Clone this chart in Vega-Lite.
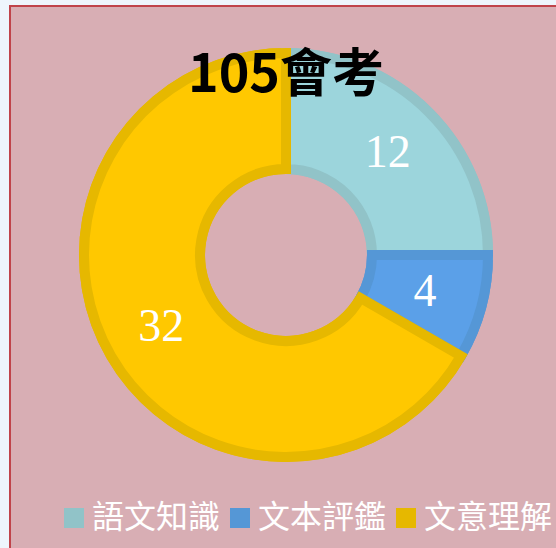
{
  "$schema": "https://vega.github.io/schema/vega-lite/v6.json",
  "width": 552,
  "height": 560,
  "autosize": "none",
  "padding": {"left": 10, "top": 6, "right": 0, "bottom": 0},
  "background": "#eef5fc",
  "view": {"fill": "#d8aeb4", "stroke": "#c0434a", "strokeWidth": 2},
  "title": {
    "text": "105會考",
    "font": "Noto Sans CJK TC",
    "fontSize": 52,
    "fontWeight": "bold",
    "color": "#000000",
    "anchor": "middle",
    "baseline": "alphabetic",
    "offset": 0,
    "dy": 138
  },
  "data": {
    "values": [
      {"cat": "語文知識", "value": 12, "idx": 1},
      {"cat": "文本評鑑", "value": 4, "idx": 2},
      {"cat": "文意理解", "value": 32, "idx": 3}
    ]
  },
  "encoding": {
    "theta": {"field": "value", "type": "quantitative", "stack": true},
    "order": {"field": "idx", "type": "ordinal"}
  },
  "layer": [
    {
      "mark": {"type": "arc", "outerRadius": 207, "innerRadius": 81, "y": 249},
      "encoding": {
        "color": {
          "field": "cat",
          "type": "nominal",
          "scale": {"domain": ["語文知識", "文本評鑑", "文意理解"], "range": ["#91c3c8", "#5597d6", "#e6b800"]},
          "legend": {
            "title": null,
            "orient": "none",
            "direction": "horizontal",
            "legendX": 48,
            "legendY": 496,
            "padding": 0,
            "symbolType": "square",
            "symbolSize": 400,
            "symbolStrokeWidth": 0,
            "symbolOpacity": 1,
            "labelFont": "Noto Sans CJK TC",
            "labelFontSize": 32,
            "labelColor": "#ffffff",
            "labelOffset": 2,
            "labelLimit": 0,
            "columnPadding": 3
          }
        }
      }
    },
    {
      "mark": {"type": "arc", "outerRadius": 202, "innerRadius": 86, "strokeWidth": 10, "y": 249},
      "encoding": {
        "fill": {
          "field": "cat",
          "type": "nominal",
          "scale": {"domain": ["語文知識", "文本評鑑", "文意理解"], "range": ["#9cd5dc", "#5ba0e8", "#ffc800"]},
          "legend": null
        },
        "stroke": {
          "field": "cat",
          "type": "nominal",
          "scale": {"domain": ["語文知識", "文本評鑑", "文意理解"], "range": ["#91c3c8", "#5597d6", "#e6b800"]},
          "legend": null
        }
      }
    },
    {
      "mark": {"type": "text", "radius": 144, "y": 249, "font": "Liberation Serif", "fontSize": 46, "color": "#ffffff", "baseline": "middle", "align": "center"},
      "encoding": {
        "text": {"field": "value", "type": "quantitative"}
      }
    }
  ]
}
